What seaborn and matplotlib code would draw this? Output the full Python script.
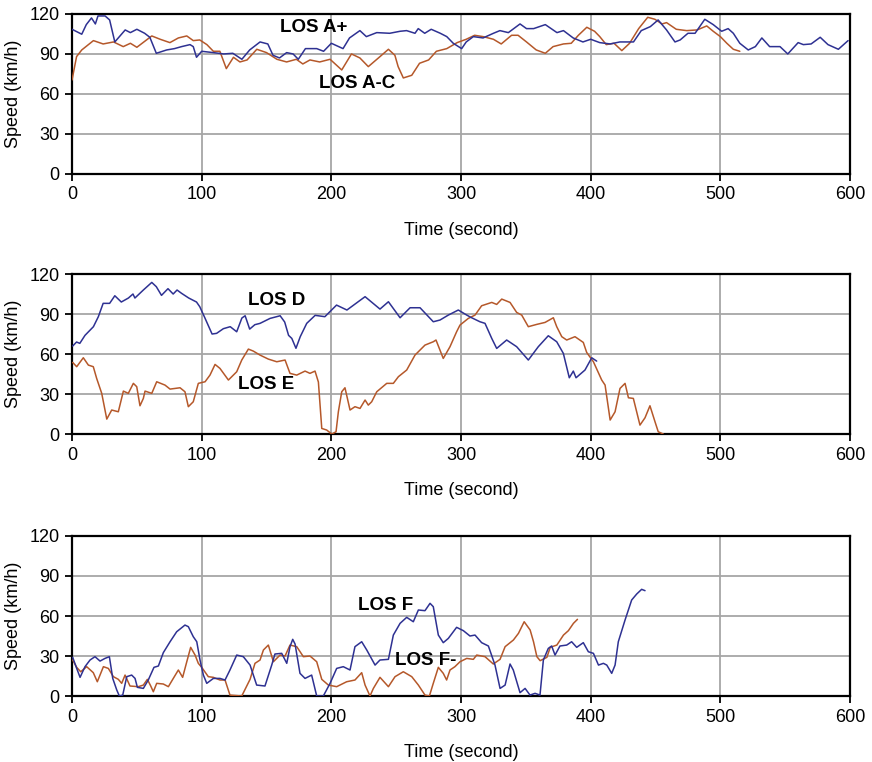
import seaborn as sns
import matplotlib.pyplot as plt
import pandas as pd

# LOS A+ / LOS A-C (panel 1)
t_a_plus = [0, 7.5, 11, 15, 18, 20, 25.5, 29, 33, 37,
            41, 45, 50, 56, 60, 65, 73, 79, 84.5, 91,
            93.5, 96, 100, 109, 117, 124, 131, 137, 145, 151,
            155, 160, 165.5, 170.5, 174.5, 180, 188.7, 194, 200, 209,
            214, 222, 227, 235, 245, 253, 258, 264.5, 267, 272,
            277, 284, 289, 294, 300.5, 304, 309.5, 317, 325, 330,
            336.5, 345.5, 350.5, 356, 365, 374, 379, 386.5, 394, 400,
            407, 415, 422.5, 433, 439, 446, 452, 458.5, 465, 469,
            475, 480.5, 488, 494.5, 501, 506, 510, 515, 521.5, 527,
            532, 538, 546, 552, 560, 564, 570, 577, 583, 591,
            598.5]
v_a_plus = [108.5, 104.8, 112, 117, 112.5, 118.5, 118.5, 115.5, 99, 103.5,
            108, 106, 108.5, 105.5, 102.5, 90.5, 93, 94, 95.5, 97,
            95.5, 87.5, 92, 91, 90, 90.5, 86, 93, 99, 97.5,
            89, 87, 91, 90, 86, 94, 94, 92, 98, 94,
            102, 107.5, 103, 106, 105.5, 107, 107.5, 105.5, 109, 105.5,
            108.5, 105.5, 103, 98, 94, 99, 103, 102, 105.5, 107.5,
            106, 112.5, 109, 109, 112, 106, 107.5, 102, 99, 101,
            98.5, 97.5, 99, 99, 107.5, 110.5, 115.5, 108, 99, 100.5,
            105.5, 105.5, 116, 112, 107, 109, 105.5, 98, 93, 95.5,
            102, 95.5, 95.5, 90, 98.5, 97, 97.5, 102.5, 97, 93.5,
            100]

t_a_c = [0, 3.5, 7.5, 16.5, 24, 32, 39.5, 45, 50, 61.5,
         68, 75.5, 82, 88.5, 93.5, 98.5, 104, 109, 114, 119,
         124.5, 129.5, 135, 142.5, 150, 158, 165.5, 173, 178, 183.5,
         191, 199, 208, 215.5, 222, 228.5, 237.5, 244, 249, 251.5,
         255.5, 262, 268, 275, 281, 289, 297, 304, 310.5, 317,
         325, 331, 339, 344, 350.5, 358, 365, 371, 379, 385,
         390.5, 397, 403, 407, 412, 418, 424, 430, 437, 444,
         449.5, 455, 458.5, 466, 474, 482, 489.5, 494.5, 500, 505,
         510, 515]
v_a_c = [70.5, 88, 93, 100, 97.5, 99, 95.5, 98, 95, 103.5,
         101, 98.5, 102, 103.5, 100, 100.5, 97, 92, 92, 79,
         87.5, 84, 85.5, 93.5, 91, 86, 84, 86, 82.5, 85.5,
         84, 86, 78, 90, 87, 80.5, 88, 93.5, 89, 80.5,
         72, 74, 83, 85.5, 92, 94, 98.5, 101, 104, 103,
         101, 97.5, 104, 104, 99, 93, 90.5, 95.5, 97.5, 98,
         104, 110, 107, 103, 97, 98, 92.5, 98, 109, 117.5,
         116, 112.5, 113.5, 108.5, 107.5, 108, 111, 107, 103, 98,
         93.5, 92]

# LOS D / LOS E (panel 2)
t_d = [0.5, 3.5, 6, 10, 16.5, 20.3, 24, 29, 33, 38,
       43.5, 47, 48.5, 55, 61.5, 65, 69, 74, 78, 81,
       84.5, 90, 96, 98.5, 102.5, 108, 111.5, 116.7, 122, 127,
       131, 133.5, 137, 141, 145, 152.7, 160.5, 164, 167, 169.5,
       172.7, 176, 181, 187.5, 195, 204, 212, 226, 237.5, 244,
       253, 260.7, 268.4, 278.6, 283.8, 290.2, 297.9, 304.4, 308.2, 314.6,
       318.5, 323.7, 327.5, 335.2, 342.9, 351.9, 359.6, 367.3, 373.8, 378.9,
       383.5, 386.6, 388.7, 395.6, 400.8, 404.6]
v_d = [66, 69, 68, 74, 80.5, 88, 98, 98, 103.7, 99,
       102, 105, 102, 108, 113.7, 110.5, 104, 109, 105, 108,
       105.5, 102, 99, 95.5, 87, 75, 75.5, 79, 80.5, 76.7,
       87, 88.7, 78.7, 82, 83, 86.7, 88.7, 84, 74, 71.7,
       64.3, 73, 83, 89, 88, 96.7, 93, 103, 93.7, 99.2,
       87.2, 94.7, 94.7, 84.2, 85.5, 89.2, 93, 89.2, 87.2, 84.2,
       83, 71.7, 64.2, 70.5, 65.5, 55.5, 65.5, 73.7, 69.2, 60.5,
       42.2, 47.2, 42.2, 48, 57.2, 54.7]

t_e = [0.5, 3.6, 8.7, 12.6, 16.4, 19, 22.9, 26.8, 30.6, 35.7,
       39.6, 43.4, 47.3, 49.9, 52.4, 55, 56.3, 61.5, 65.3, 71.7,
       75.6, 83.3, 87.1, 89.7, 93.5, 97.4, 102.6, 106.4, 110.3, 114.1,
       120.6, 127, 130.9, 136, 139.8, 145, 151.4, 157.9, 164.3, 168.1,
       173.3, 179.7, 183.5, 187.4, 190, 192.6, 196.4, 200.3, 203.6, 205.4,
       208, 210.5, 214.4, 218.2, 222.1, 226, 228.5, 231.1, 233.7, 235,
       242.7, 247.8, 251.7, 258.1, 264.5, 272.2, 278.6, 280.7, 286.3, 291.5,
       296.6, 299.2, 305.6, 310.8, 315.9, 323.7, 327.5, 331.4, 337.8, 342.9,
       346.8, 351.9, 358.3, 364.8, 371.2, 373.8, 377.7, 381.5, 387.9, 394.3,
       396.9, 402.1, 408.5, 411.1, 415, 418.8, 422.6, 426.5, 429.1, 432.9,
       438, 441.9, 445.7, 449.6, 452.1, 456]
v_e = [53.7, 50.5, 57.2, 51.7, 50.5, 41.7, 30.5, 11.2, 18, 16.7,
       32.2, 30.5, 38, 35.5, 21.2, 26.7, 32.2, 30.5, 39.2, 36.7,
       33.7, 34.7, 31.7, 20.5, 24.2, 38, 39.2, 44.2, 52.2, 49.2,
       40.5, 46.7, 55.5, 63.7, 62.2, 59.2, 56.2, 54.2, 55.5, 45.5,
       44.2, 47.2, 45.5, 47.2, 39, 4.2, 3, 0, 1.7, 16.7,
       31.7, 34.7, 18, 20.5, 19.2, 25.5, 21.7, 24.2, 29.2, 31.7,
       38, 38, 43, 48, 59.2, 66.7, 69.2, 70.5, 56.7, 65.5,
       76.7, 81.7, 86.7, 89.2, 96.2, 98.7, 97.2, 101.2, 98.7, 91.2,
       89.2, 80.5, 82.2, 83.7, 87.2, 80.5, 73, 70.5, 73, 68.7,
       61.2, 54.2, 40.5, 36.7, 10.5, 16.7, 34.2, 38, 27.2, 26.7,
       6.7, 12.2, 21.2, 9.2, 1.7, 0]

# LOS F / LOS F- (panel 3)
t_f = [0.5, 3.6, 6.2, 10, 13.9, 17.7, 21.6, 25.4, 28.8, 31.4,
       34.5, 36.5, 39.1, 42.2, 46, 48.6, 50.4, 55, 58.8, 63.2,
       66.6, 70.4, 75.6, 80.7, 87.1, 89.7, 93.5, 96.2, 98.7, 101.3,
       103.9, 109, 114.1, 118, 121.8, 127, 132.1, 137.3, 142.4, 148.8,
       154, 156.5, 161.7, 165.6, 168.1, 170.2, 172, 175.8, 179.7, 184.8,
       188.7, 193.8, 199, 204.1, 209.2, 214.4, 218.2, 223.4, 227.3, 233.7,
       237.5, 244, 247.8, 253, 258.1, 263.2, 267.1, 272.2, 276.1, 278.6,
       282.5, 286.3, 290.2, 296.6, 301.8, 306.9, 310.8, 315.9, 321.1, 326.2,
       330.1, 334, 337.8, 340.3, 345.5, 349.4, 353.2, 357.1, 360.9, 363.5,
       367.3, 369.9, 372.5, 376.3, 381.5, 385.3, 389.2, 394.3, 398.2, 402.1,
       406, 409.8, 412.4, 416.2, 418.8, 421.3, 426.5, 431.6, 435.5, 439.3,
       441.9]
v_f = [29, 20.7, 14, 22, 27, 29.5, 26.2, 28.2, 29.5, 13.2,
       4.5, 0, 0.7, 14.5, 15.7, 13.2, 6.5, 5.7, 12, 21.5,
       22.5, 32.5, 40.7, 48.2, 53.2, 52, 44.5, 40.7, 27, 15.7,
       9.5, 13.2, 13.2, 12, 19.5, 30.7, 29.5, 23.2, 8.2, 7.5,
       23.2, 31.5, 32, 24.5, 37, 42.5, 39, 17, 13.2, 15.7,
       0, 0, 9.5, 20.7, 22, 19.5, 37, 40.7, 34.5, 23.2,
       27, 27.5, 45.7, 54.5, 59, 55.7, 64.5, 64, 69.5, 67,
       45.7, 40, 43.2, 51.5, 49, 45, 45.7, 40, 37.5, 23.2,
       5.7, 8.2, 24, 19.5, 2.5, 5.7, 0.7, 2, 0.7, 27,
       35.7, 37.5, 30.7, 37.5, 38.2, 40.7, 36.5, 40, 33.2, 32,
       23.2, 24.5, 23.2, 17, 23.2, 40.7, 57, 72, 76.5, 80,
       79]

t_f_minus = [0.5, 3.6, 6.7, 11.3, 16.4, 19.5, 24.2, 28, 31.9, 35.7,
             38.3, 40.9, 44.7, 51.1, 55, 58.1, 60.7, 62.7, 65.3, 70.4,
             74.3, 78.1, 82, 85.3, 88.5, 91.5, 94.9, 97.4, 100, 105.1,
             109, 114.1, 118, 121.8, 130.9, 137.3, 141.1, 145, 147.6, 151.4,
             155.3, 160.4, 164.3, 168.1, 173.3, 178.4, 183.5, 188.7, 192.6, 197.7,
             204.1, 211.8, 218.2, 223.4, 226, 229.8, 232.4, 237.5, 244, 249.1,
             255.5, 262, 267.1, 272.2, 275.6, 278.6, 282.5, 286.3, 288.9, 291.5,
             295.3, 299.2, 304.4, 309.5, 312.1, 318.5, 324.9, 330.1, 334, 340.4,
             344.3, 348.7, 353.3, 355.9, 358.5, 361, 366.2, 368.8, 373.9, 379,
             382.8, 386.7, 389.8]
v_f_minus = [27, 21.5, 18.2, 22, 17.5, 10.7, 22, 20.7, 14.5, 12.5,
             9.5, 15.7, 7.5, 7, 8.2, 12.5, 7.5, 3.2, 9.5, 9,
             7, 13.2, 19.5, 14, 25.7, 36.5, 30.7, 24.5, 21.5, 14.5,
             14, 12, 12, 0.7, 0, 12.5, 24.5, 27, 34.5, 38.2,
             25.7, 30.7, 30, 38.2, 37, 29.5, 30, 25.7, 12.5, 8.2,
             7, 10.7, 12, 17.5, 8.2, 0, 5.7, 14, 7, 14.5,
             18.2, 14.5, 8.2, 0.7, 0, 9.5, 21.5, 17, 12, 19.5,
             22, 25.7, 28.2, 27.5, 30.7, 29.5, 24, 27.5, 37, 42,
             47, 55.7, 49.5, 40.7, 29.5, 26.5, 29, 36.5, 38.2, 45.7,
             49, 54.5, 57.5]

x_ticks = [0, 100, 200, 300, 400, 500, 600]
y_ticks = [0, 30, 60, 90, 120]

BLUE = '#2e3192'
BROWN = '#b5582a'

sns.set_style("white")
plt.rcParams['font.family'] = ['Liberation Sans', 'DejaVu Sans']
plt.rcParams['text.color'] = 'black'
plt.rcParams['axes.labelcolor'] = 'black'
plt.rcParams['xtick.color'] = 'black'
plt.rcParams['ytick.color'] = 'black'

panels = [
    (t_a_plus, v_a_plus, t_a_c, v_a_c,
     [("LOS A+", 186, 109.5), ("LOS A-C", 220, 67.5)]),
    (t_d, v_d, t_e, v_e,
     [("LOS D", 158, 100), ("LOS E", 150, 37.5)]),
    (t_f, v_f, t_f_minus, v_f_minus,
     [("LOS F", 242, 68), ("LOS F-", 273, 27)]),
]

fig = plt.figure(figsize=(8.72, 7.62), dpi=100)
bottoms = [0.7717, 0.4304, 0.0866]

for (tb, vb, tr, vr, labels), b in zip(panels, bottoms):
    assert len(tb) == len(vb) and len(tr) == len(vr)
    ax = fig.add_axes([0.0826, b, 0.8922, 0.21])
    blue = pd.DataFrame({'t': tb, 'v': vb})
    brown = pd.DataFrame({'t': tr, 'v': vr})
    sns.lineplot(data=brown, x='t', y='v', ax=ax, color=BROWN, lw=1.1,
                 estimator=None, sort=False, zorder=3)
    sns.lineplot(data=blue, x='t', y='v', ax=ax, color=BLUE, lw=1.1,
                 estimator=None, sort=False, zorder=4)
    ax.set_xlim(0, 600)
    ax.set_ylim(0, 120)
    ax.set_xticks(x_ticks)
    ax.set_yticks(y_ticks)
    ax.grid(True, color='#a6a6a6', lw=1.3)
    ax.set_axisbelow(True)
    for s in ax.spines.values():
        s.set_color('black')
        s.set_linewidth(1.6)
    ax.tick_params(axis='both', direction='out', length=5, width=1.3,
                   color='black', labelsize=13, bottom=True, left=True, pad=4)
    ax.set_xlabel("Time (second)", fontsize=13, labelpad=13)
    ax.set_ylabel("Speed (km/h)", fontsize=13, labelpad=5)
    for txt, x, y in labels:
        ax.text(x, y, txt, fontsize=13.5, fontweight='bold', ha='center',
                va='center', zorder=5)

fig.savefig("out.png", dpi=100)
